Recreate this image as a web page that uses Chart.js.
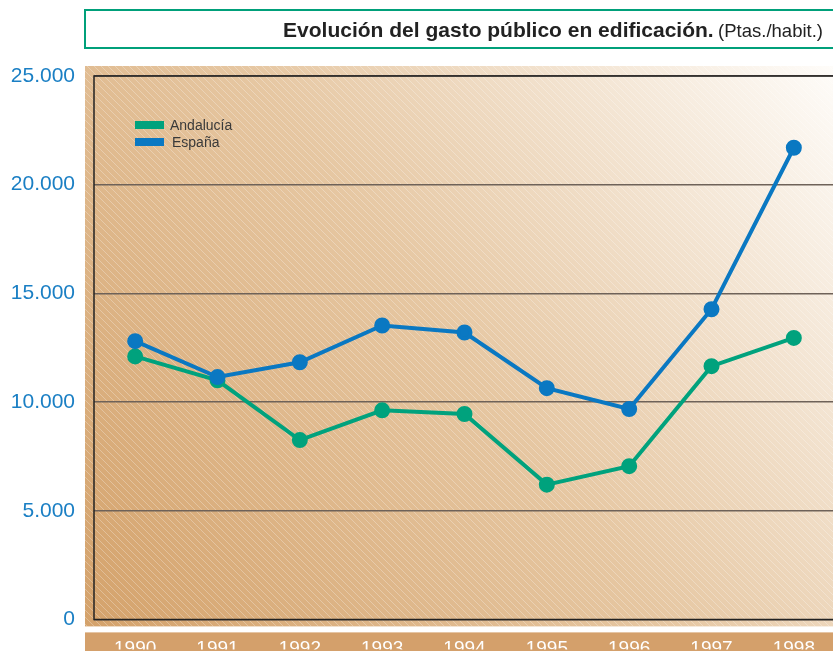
<!DOCTYPE html>
<html>
<head>
<meta charset="utf-8">
<script src="https://cdn.jsdelivr.net/npm/chart.js@4"></script>
<style>
  html, body { margin: 0; padding: 0; background: #fff; overflow: hidden; }
  #wrap { position: relative; width: 833px; height: 651px; overflow: hidden; }
  #gasto { position: absolute; left: 0; top: 0; }
  #title {
    position: absolute; left: 84px; top: 9px; width: 760px; height: 36px;
    border: 2px solid #00a07a;
    font-family: "Liberation Sans", Arial, sans-serif; color: #222;
  }
  #title span.inner { position: absolute; right: 23px; top: 0; line-height: 38px; white-space: nowrap; }
  #title b { font-size: 21px; }
  #title small { font-size: 18.5px; }
</style>
</head>
<body>
<div id="wrap">
  <canvas id="gasto" width="845" height="651"></canvas>
  <div id="title"><span class="inner"><b>Evolución del gasto público en edificación.</b> <small>(Ptas./habit.)</small></span></div>
</div>
<script>
const years = ['1990', '1991', '1992', '1993', '1994', '1995', '1996', '1997', '1998'];
const andalucia = [12100, 11000, 8250, 9620, 9450, 6200, 7050, 11650, 12950];
const espana = [12800, 11150, 11830, 13520, 13200, 10640, 9680, 14270, 21700];
const seriesNames = ['Andalucía', 'España'];
const seriesColors = ['#00a27d', '#0a78c2'];

function formatMiles(v) {
    return v.toString().replace(/\B(?=(\d{3})+(?!\d))/g, '.');
}

function makeHatch(ctx) {
    const c = document.createElement('canvas');
    c.width = 7; c.height = 7;
    const p = c.getContext('2d');
    p.strokeStyle = 'rgba(255,255,255,0.35)';
    p.lineWidth = 0.8;
    p.beginPath();
    p.moveTo(-1, -1); p.lineTo(8, 8);
    p.moveTo(-1, 6); p.lineTo(1, 8);
    p.moveTo(6, -1); p.lineTo(8, 1);
    p.stroke();
    return ctx.createPattern(c, 'repeat');
}

const panel = {
    id: 'panel',
    beforeDraw(chart) {
        const ctx = chart.ctx;
        const a = chart.chartArea;
        const x0 = a.left - 9, y0 = a.top - 10, x1 = 833, y1 = a.bottom + 7;
        ctx.save();
        const g = ctx.createLinearGradient(x0, y1, x1, y0);
        g.addColorStop(0, '#d4a26b');
        g.addColorStop(0.5, '#e6c7a2');
        g.addColorStop(1, '#fefcf9');
        ctx.fillStyle = g;
        ctx.fillRect(x0, y0, chart.width - x0, y1 - y0);
        ctx.fillStyle = makeHatch(ctx);
        ctx.fillRect(x0, y0, chart.width - x0, y1 - y0);
        // x label band
        ctx.fillStyle = '#d4a06b';
        ctx.fillRect(x0, a.bottom + 13, chart.width - x0, chart.height - a.bottom - 13);
        ctx.restore();
    },
    beforeDatasetsDraw(chart) {
        const ctx = chart.ctx;
        const a = chart.chartArea;
        ctx.save();
        ctx.strokeStyle = '#222';
        ctx.lineWidth = 1.5;
        ctx.beginPath();
        ctx.moveTo(chart.width, a.top);
        ctx.lineTo(a.left, a.top);
        ctx.lineTo(a.left, a.bottom);
        ctx.lineTo(chart.width, a.bottom);
        ctx.stroke();
        ctx.restore();
    },
    afterDraw(chart) {
        const ctx = chart.ctx;
        ctx.save();
        ctx.font = '14px "Liberation Sans", Arial, sans-serif';
        ctx.textBaseline = 'middle';
        chart.data.datasets.forEach((ds, i) => {
            const y = 125 + i * 17;
            ctx.fillStyle = ds.borderColor;
            ctx.fillRect(135, y - 4, 29, 8);
            ctx.fillStyle = '#3a3a3a';
            ctx.fillText(ds.label, 170 + i * 2, y + 1);
        });
        ctx.restore();
    }
};

new Chart(document.getElementById('gasto'), {
    type: 'line',
    data: {
        labels: years,
        datasets: [
            {
                label: seriesNames[0], data: andalucia, order: 2,
                borderColor: seriesColors[0], backgroundColor: seriesColors[0],
                borderWidth: 4, pointRadius: 6, pointHoverRadius: 6, tension: 0
            },
            {
                label: seriesNames[1], data: espana, order: 1,
                borderColor: seriesColors[1], backgroundColor: seriesColors[1],
                borderWidth: 4, pointRadius: 6, pointHoverRadius: 6, tension: 0
            }
        ]
    },
    options: {
        responsive: false,
        animation: false,
        layout: { padding: { top: 76, right: 0, left: 0, bottom: 0 } },
        plugins: { legend: { display: false }, tooltip: { enabled: false } },
        scales: {
            x: {
                offset: true,
                grid: { display: false, drawTicks: false },
                border: { display: false },
                ticks: {
                    color: '#ffffff', padding: 18,
                    font: { family: '"Liberation Sans", Arial, sans-serif', size: 19 }
                },
                afterFit(scale) { scale.height = 30; }
            },
            y: {
                min: 0, max: 25000,
                grid: { color: '#6e6259', lineWidth: 1.6, drawTicks: false },
                border: { display: false },
                ticks: {
                    stepSize: 5000, color: '#1a7fc4', padding: 19,
                    font: { family: '"Liberation Sans", Arial, sans-serif', size: 21 },
                    callback: v => formatMiles(v)
                },
                afterFit(scale) { scale.width = 94; }
            }
        }
    },
    plugins: [panel]
});
</script>
</body>
</html>
